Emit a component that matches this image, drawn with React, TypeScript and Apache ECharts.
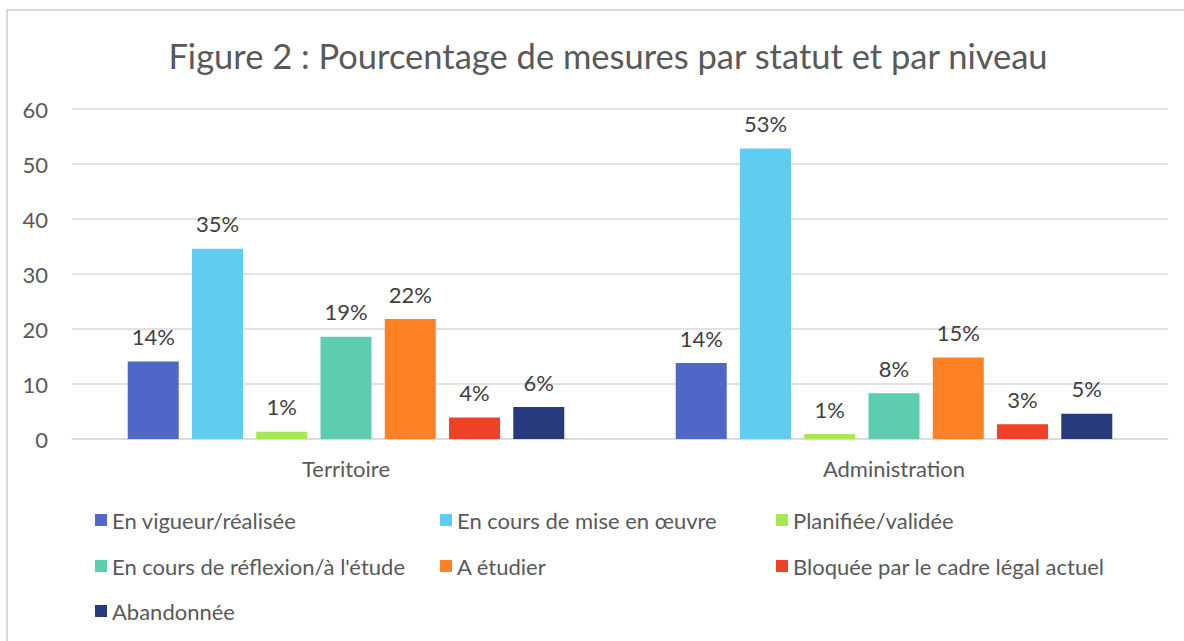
import React, { useEffect, useRef } from "react";
import * as echarts from "echarts";

const categories = ["Territoire", "Administration"];
const seriesNames = [
  "En vigueur/réalisée",
  "En cours de mise en œuvre",
  "Planifiée/validée",
  "En cours de réflexion/à l'étude",
  "A étudier",
  "Bloquée par le cadre légal actuel",
  "Abandonnée",
];
const enVigueur = [14.1, 13.8];
const enCours = [34.6, 52.8];
const planifiee = [1.3, 0.9];
const reflexion = [18.6, 8.3];
const aEtudier = [21.8, 14.8];
const bloquee = [3.9, 2.7];
const abandonnee = [5.8, 4.6];
const seriesValues = [enVigueur, enCours, planifiee, reflexion, aEtudier, bloquee, abandonnee];
const colors = ["#4F67C8", "#5FCCF2", "#A5E84F", "#5DCDB0", "#FF8124", "#EE4126", "#263A7D"];
const yTicks = { min: 0, max: 60, interval: 10 };

const FONT = "Lato";
const TXT = "#595959";

export default function App() {
  const ref = useRef<HTMLDivElement>(null);
  useEffect(() => {
    if (!ref.current) return;
    const chart = echarts.init(ref.current, null, { renderer: "svg" });
    const legendCols = [95, 440, 776];
    const legendRows = [509, 555, 600];
    chart.setOption({
      animation: false,
      textStyle: { fontFamily: FONT },
      title: {
        text: "Figure 2 : Pourcentage de mesures par statut et par niveau",
        left: 603,
        top: 33,
        textAlign: "center",
        textStyle: { fontFamily: FONT, fontSize: 34.5, fontWeight: "normal", color: TXT },
      },
      legend: seriesNames.map((n, i) => ({
        data: [n],
        left: legendCols[i % 3],
        top: legendRows[Math.floor(i / 3)],
        itemWidth: 12,
        itemHeight: 12,
        icon: "rect",
        padding: 0,
        textStyle: { fontFamily: FONT, fontSize: 22, color: TXT },
      })),
      grid: { left: 72, right: 16, top: 109, bottom: 202, containLabel: false },
      xAxis: {
        type: "category",
        data: categories,
        axisLine: { lineStyle: { color: "#D9D9D9", width: 1.5 } },
        axisTick: { show: false },
        axisLabel: { color: TXT, fontSize: 22, fontFamily: FONT, margin: 18 },
      },
      yAxis: {
        type: "value",
        min: yTicks.min,
        max: yTicks.max,
        interval: yTicks.interval,
        axisLine: { show: false },
        axisTick: { show: false },
        axisLabel: { color: TXT, fontSize: 22, fontFamily: FONT, margin: 24 },
        splitLine: { lineStyle: { color: "#D9D9D9", width: 1.5 } },
      },
      series: seriesNames.map((n, i) => ({
        name: n,
        type: "bar",
        data: seriesValues[i],
        barWidth: 51,
        barGap: "26%",
        itemStyle: { color: colors[i] },
        label: {
          show: true,
          position: "top",
          distance: 14,
          color: "#404040",
          fontSize: 22,
          fontFamily: FONT,
          formatter: (p: any) => Math.round(p.value) + "%",
        },
      })),
    });
    return () => chart.dispose();
  }, []);
  return (
    <div style={{ position: "absolute", left: 0, top: 0, width: 1184, height: 641, overflow: "hidden", background: "#fff" }}>
      <div
        style={{
          position: "absolute",
          left: 6,
          top: 9,
          width: 1250,
          height: 700,
          border: "2px solid #D9D9D9",
        }}
      />
      <div ref={ref} style={{ position: "absolute", left: 0, top: 0, width: 1184, height: 641 }} />
    </div>
  );
}
